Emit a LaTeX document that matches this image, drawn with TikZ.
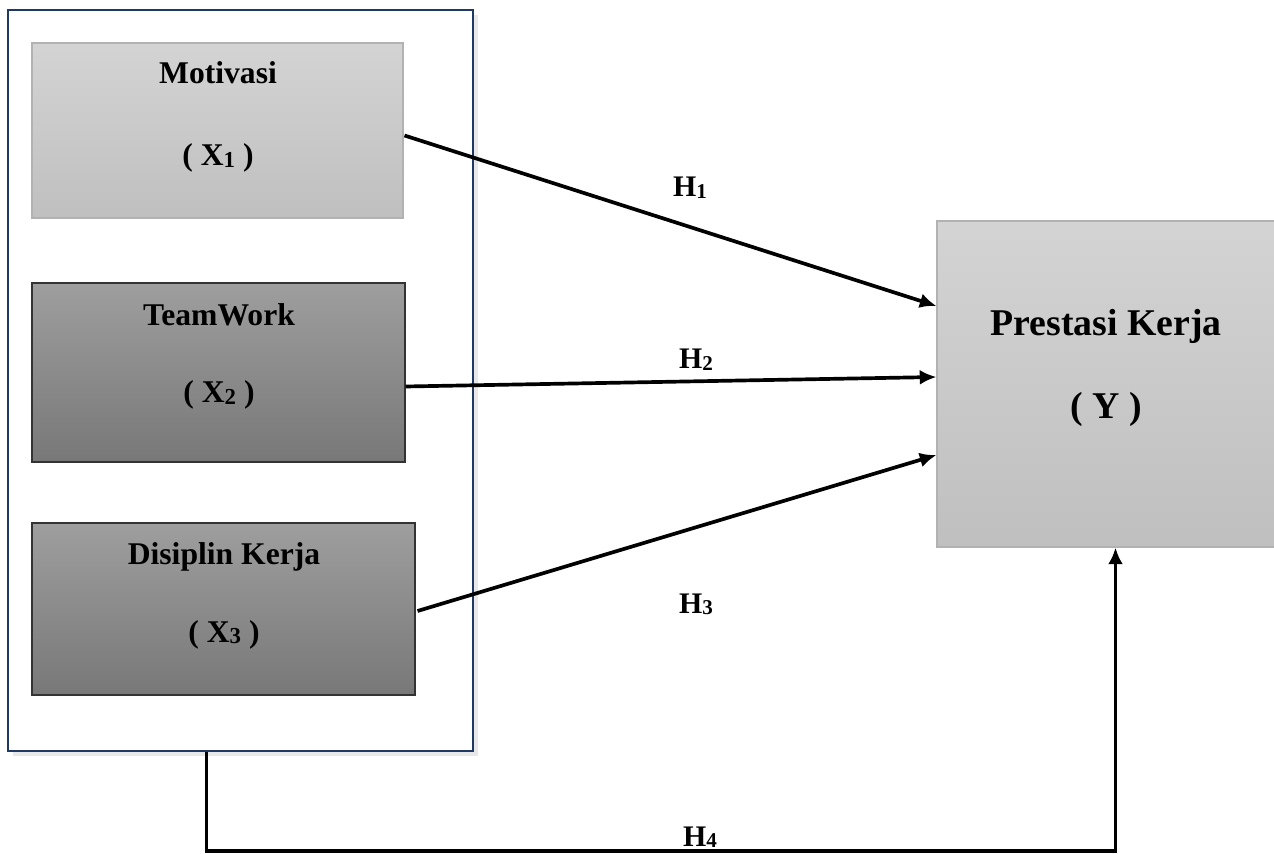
\documentclass[tikz,border=0pt]{standalone}
\usepackage{fontspec}
\setmainfont{Liberation Serif}
\usepackage{xcolor}
\usepackage{tikz}
\usetikzlibrary{positioning,fit,calc,shadows,arrows.meta}

\definecolor{framenavy}{HTML}{1F3864}

% small index digit, sitting almost on the baseline
\newcommand{\vsub}[2]{\raisebox{-0.1ex}{\fontsize{#1}{#1}\selectfont #2}}

\begin{document}
\begin{tikzpicture}[x=0.02cm, y=-0.02cm,
  lightbox/.style={draw=black!30, line width=0.6pt, top color=black!17, bottom color=black!25, inner sep=0pt},
  darkbox/.style={draw=black!80, line width=0.6pt, top color=black!38, bottom color=black!53, inner sep=0pt},
  varname/.style={anchor=base, font=\bfseries\fontsize{18}{20}\selectfont},
  hlabel/.style={anchor=base, font=\bfseries\fontsize{17}{19}\selectfont},
  link/.style={line width=2.1pt, -{Latex[length=9.5pt, width=8.5pt]}}
]

\useasboundingbox (0,0) rectangle (1274,854);

% Outer frame round the three independent variables
\node[fit={(8,10) (473,751)}, inner sep=0pt, draw=framenavy, line width=1.2pt, fill=white,
      drop shadow={shadow xshift=3pt, shadow yshift=-3pt, opacity=0.18}] (grp) {};

% Independent variables
\node[lightbox, fit={(32,43) (403,218)}] (mot) {};
\node[varname] (mot-name) at (218,84) {Motivasi};
\node[varname] (mot-var) at (218,166) {( X\vsub{13}{1} )};

\node[darkbox, fit={(32,283) (405,462)}] (tw) {};
\node[varname] (tw-name) at (219,326) {TeamWork};
\node[varname] (tw-var) at (219,403) {( X\vsub{13}{2} )};

\node[darkbox, fit={(32,523) (415,695)}] (dk) {};
\node[varname] (dk-name) at (224,564) {Disiplin Kerja};
\node[varname] (dk-var) at (224,642) {( X\vsub{13}{3} )};

% Dependent variable (runs past the right edge)
\node[lightbox, fit={(937,221) (1278,547)}] (prest) {};
\node[varname, font=\bfseries\fontsize{21.5}{24}\selectfont] (prest-name) at (1106,336) {Prestasi Kerja};
\node[varname, font=\bfseries\fontsize{21.5}{24}\selectfont] (prest-var) at (1106,419) {( Y )};

% Hypothesis paths
\draw[link] ($(mot.east)+(1,5)$) -- ($(prest.west)+(0,-78)$);
\draw[link] ($(tw.east)+(0,14)$) -- ($(prest.west)+(0,-7)$);
\draw[link] ($(dk.east)+(2,2)$) -- ($(prest.west)+(0,71)$);

% Simultaneous path from the frame to Y
\coordinate (h4start) at ($(grp.south)+(-34,0)$);
\coordinate (h4end) at ($(prest.south)+(8,0)$);
\coordinate (h4base) at (0,851);
\draw[link] (h4start) -- (h4start |- h4base) -- (h4end |- h4base) -- (h4end);

% Labels
\node[hlabel] (h1) at (690,197) {H\vsub{12}{1}};
\node[hlabel] (h2) at (696,369) {H\vsub{12}{2}};
\node[hlabel] (h3) at (696,613) {H\vsub{12}{3}};
\node[hlabel] (h4) at (700,846) {H\vsub{12}{4}};

\end{tikzpicture}
\end{document}
